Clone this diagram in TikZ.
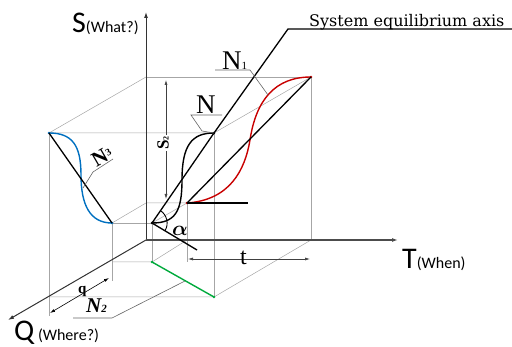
\documentclass[tikz,border=0pt]{standalone}
\usepackage{fontspec}
\setmainfont{Liberation Serif}
\newfontfamily\labsans{Carlito}
\newfontfamily\eqserif{DejaVu Serif}
\usetikzlibrary{arrows.meta,calc}
\definecolor{cblue}{RGB}{0,112,192}
\definecolor{cred}{RGB}{200,0,0}
\definecolor{cgreen}{RGB}{0,170,60}
\begin{document}
\begin{tikzpicture}[x=1pt,y=-1pt,
  gridline/.style={draw=black!35,line width=0.5pt},
  axisline/.style={draw=black!80,line width=1pt,-{Latex[length=6pt,width=4pt]}},
  curveline/.style={line width=1.4pt},
  dimline/.style={draw=black!75,line width=0.6pt,{Latex[length=5pt,width=3pt]}-{Latex[length=5pt,width=3pt]}},
  leader/.style={draw=black!60,line width=0.6pt},
  dot/.style={circle,fill,inner sep=0pt,minimum size=2.6pt},
  axlab/.style={anchor=base west,inner sep=0pt,font=\labsans\fontsize{30}{30}\selectfont},
  serlab/.style={anchor=base west,inner sep=0pt,font=\fontsize{27}{27}\selectfont},
]
\useasboundingbox (0,0) rectangle (512,347);
% axis points
\coordinate (O) at (146,240);
\coordinate (Stop) at (146,12);
\coordinate (Tend) at (398,240);
\coordinate (Qend) at (8,320);
% outer box
\coordinate (BTL) at (146,77);
\coordinate (BTR) at (311,77);
\coordinate (BBR) at (311,240);
\coordinate (FTL) at (49,133);
\coordinate (FTR) at (214,133);
\coordinate (FBR) at (214,297);
\coordinate (FBL) at (49,297);
\coordinate (FLext) at (49,316);
% small box
\coordinate (sB) at (112,223);
\coordinate (sA) at (152,223);
\coordinate (sBack) at (146,203);
\coordinate (sR) at (187,203);
\coordinate (sAbot) at (152,262);
\coordinate (sBbot) at (112,262);
\coordinate (sRbot) at (187,240);
\coordinate (sBext) at (112,281);
\coordinate (sRext) at (187,262);
\coordinate (sRline) at (248,203);
\coordinate (aEnd) at (197,250);
\coordinate (eqBend) at (288,29);
\coordinate (eqEnd) at (512,29);

% gray construction lines
\draw[gridline] (BTL) -- (BTR) -- (BBR);
\draw[gridline] (BTL) -- (FTL) -- (FTR) -- (BTR);
\draw[gridline] (FTL) -- (FLext);
\draw[gridline] (FBL) -- (FBR) -- (BBR);
\draw[gridline] (FTR) -- (FBR);
\draw[gridline] (sB) -- (sA);
\draw[gridline] (sB) -- (sBack) -- (sR);
\draw[gridline] (sA) -- (sR);
\draw[gridline] (sR) -- (sRext);
\draw[gridline] (sA) -- (sAbot);
\draw[gridline] (sB) -- (sBext);
\draw[gridline] (sBbot) -- (sAbot) -- (sRbot);

% axes
\draw[axisline] (O) -- (Stop);
\draw[axisline,line width=1.3pt,draw=black!70] (O) -- (Tend);
\draw[axisline] (O) -- (Qend);

% dots
\node[dot,cblue] (b1) at (FTL) {};
\node[dot,cblue] (b2) at (sB) {};
\node[dot,cred] (r1) at (sR) {};
\node[dot,cred] (r2) at (BTR) {};
\node[dot,cgreen] (g1) at (sAbot) {};
\node[dot,cgreen] (g2) at (FBR) {};
\node[dot,black] (k1) at (sA) {};
\node[dot,black] (k2) at (FTR) {};

% curves
\draw[curveline,cblue] (b1.center) .. controls (72,133) and (81,145) .. (81,175)
   .. controls (81,205) and (90,223) .. (b2.center);
\draw[curveline,black] (k1.center) .. controls (175,223) and (182,212) .. (182,180)
   .. controls (182,145) and (192,133) .. (k2.center);
\draw[curveline,cred] (r1.center) .. controls (230,200) and (245,170) .. (250,140)
   .. controls (256,100) and (275,77) .. (r2.center);
\draw[curveline,cgreen] (g1.center) -- (g2.center);

% straight black lines
\draw[line width=1.3pt] (b1.center) -- (b2.center);
\draw[line width=1.3pt] (r1.center) -- (r2.center);
\draw[line width=1.3pt] (r1.center) -- (sRline);
\draw[line width=1.3pt] (k1.center) -- (k2.center) -- (eqBend) -- (eqEnd);
\draw[line width=1.3pt] (k1.center) -- (aEnd);
\draw[line width=0.9pt] ($(k1.center)!15pt!(k2.center)$) coordinate (arcA)
   arc[start angle=56,end angle=-31,radius=15pt];

% dimension arrows
\coordinate (sd1) at (166,80);
\coordinate (sd2) at (166,199);
\draw[dimline] (sd1) -- (sd2);
\coordinate (td1) at (188,259);
\coordinate (td2) at (310,259);
\draw[dimline] (td1) -- (td2);
\coordinate (qd1) at (50,313);
\coordinate (qd2) at (109,278);
\draw[dimline,draw=black] (qd1) -- (qd2);

% leaders
\coordinate (nl1) at (191,115); \coordinate (nl2) at (222,115); \coordinate (nl3) at (202,131);
\draw[leader] (nl2) -- (nl1) -- (nl3) -- (k2.center);
\coordinate (n1a) at (215,70); \coordinate (n1b) at (250,70); \coordinate (n1c) at (268,95);
\draw[leader] (n1a) -- (n1b) -- (n1c);
\coordinate (n2a) at (73,318); \coordinate (n2b) at (112,318); \coordinate (n2c) at (185,281);
\draw[leader] (n2a) -- (n2b) -- (n2c);
\coordinate (n3a) at (113,159); \coordinate (n3b) at (93,172); \coordinate (n3c) at (83,188);
\draw[leader] (n3a) -- (n3b) -- (n3c);

% labels
\node[axlab] (Slab) at (72,33) {S\fontsize{16}{16}\selectfont(What?)};
\node[axlab] (Tlab) at (402,269) {T\fontsize{16}{16}\selectfont(When)};
\node[axlab] (Qlab) at (14,341) {Q\fontsize{16}{16}\selectfont\ (Where?)};
\node[anchor=base west,inner sep=0pt,font=\eqserif\fontsize{16}{16}\selectfont] (eqlab) at (309,27) {System equilibrium axis};
\node[serlab] (Nlab) at (196,114) {N};
\node[serlab] (N1lab) at (222,70) {N\fontsize{11}{11}\selectfont 1};
\node[anchor=base west,inner sep=0pt,font=\fontsize{21}{21}\selectfont\itshape\bfseries] (N2lab) at (86,313) {N\fontsize{11}{11}\selectfont 2};
\node[inner sep=0pt,rotate=30,font=\fontsize{21}{21}\selectfont\bfseries] (N3lab) at (102,157) {N\raisebox{4pt}{\fontsize{10}{10}\selectfont 3}};
\node[anchor=base west,inner sep=0pt,font=\fontsize{24}{24}\selectfont] (tlab) at (240,265) {t};
\node[anchor=base west,inner sep=0pt,font=\fontsize{15}{15}\selectfont\bfseries] (qlab) at (78,294) {q};
\node[anchor=base west,inner sep=0pt,font=\fontsize{20}{20}\selectfont\boldmath] (alab) at (172,236) {$\alpha$};
\node[inner sep=1pt,fill=white,rotate=90,font=\fontsize{17}{17}\selectfont\bfseries] (S2lab) at (163,143) {S\fontsize{8}{8}\selectfont 2};
\end{tikzpicture}
\end{document}
